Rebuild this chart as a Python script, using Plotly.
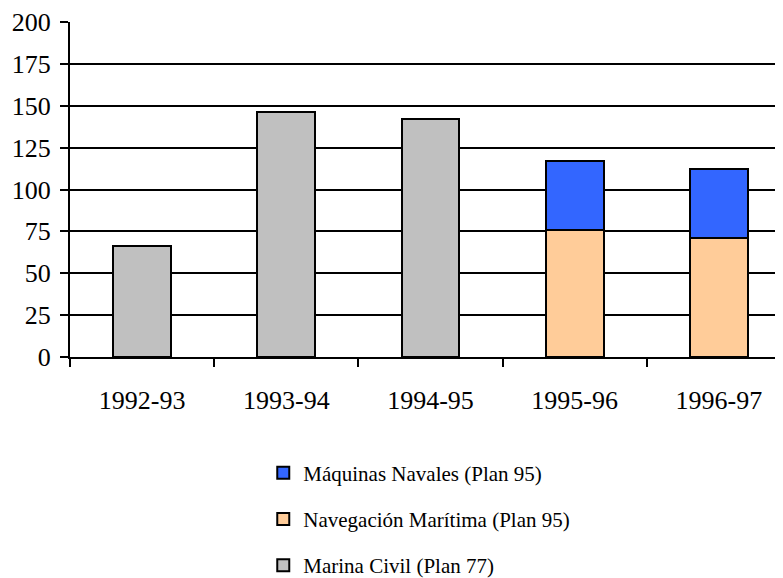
import plotly.graph_objects as go

# Academic years
years = ["1992-93", "1993-94", "1994-95", "1995-96", "1996-97"]

# Series values (None where the series does not exist)
marina_civil = [66, 146, 142, None, None]
navegacion = [None, None, None, 76, 71]
maquinas = [None, None, None, 41, 41]

y_ticks = [0, 25, 50, 75, 100, 125, 150, 175, 200]

serif = "Times New Roman"

fig = go.Figure()
fig.add_trace(go.Bar(x=years, y=marina_civil, name="Marina Civil (Plan 77)",
                     marker=dict(color="#c0c0c0", line=dict(color="black", width=2)),
                     legendgroup="a", legendrank=3))
fig.add_trace(go.Bar(x=years, y=navegacion, name="Navegación Marítima (Plan 95)",
                     marker=dict(color="#ffcc99", line=dict(color="black", width=2)),
                     legendgroup="b", legendrank=2))
fig.add_trace(go.Bar(x=years, y=maquinas, name="Máquinas Navales (Plan 95)",
                     marker=dict(color="#3366ff", line=dict(color="black", width=2)),
                     legendgroup="c", legendrank=1))

fig.update_layout(
    barmode="stack",
    bargap=0.6,
    width=783, height=578,
    margin=dict(l=62, r=0, t=14, b=229, autoexpand=False),
    paper_bgcolor="white",
    plot_bgcolor="white",
    font=dict(family=serif, color="black", size=21),
    showlegend=True,
    legend=dict(
        orientation="v",
        xref="container", yref="container",
        x=0.326, xanchor="left",
        y=0.231, yanchor="top",
        traceorder="grouped",
        tracegroupgap=16,
        font=dict(size=21, family=serif),
        itemwidth=30,
    ),
)

fig.update_xaxes(
    showline=True, linecolor="black", linewidth=2,
    ticks="outside", tickson="boundaries", ticklen=8, tickwidth=2, tickcolor="black",
    showgrid=False,
    ticklabelstandoff=19,
    tickfont=dict(size=26, family=serif),
)
fig.update_yaxes(
    range=[0, 200], tickvals=y_ticks,
    showline=True, linecolor="black", linewidth=2,
    ticks="outside", ticklen=8, tickwidth=2, tickcolor="black",
    showgrid=True, gridcolor="black", gridwidth=2,
    zeroline=False,
    ticklabelstandoff=4,
    tickfont=dict(size=26, family=serif),
)

fig.write_html("out.html")
